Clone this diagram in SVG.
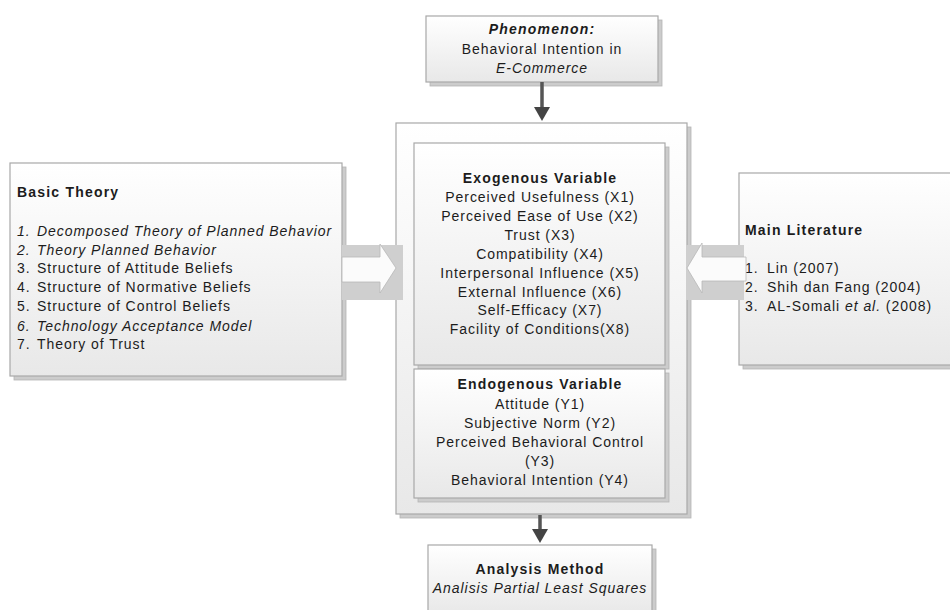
<svg xmlns="http://www.w3.org/2000/svg" width="950" height="610" viewBox="0 0 950 610">
<style>
text{font-family:"Liberation Sans",Arial,sans-serif;font-size:14px;fill:#1c1c1c;letter-spacing:0.95px}
.b{font-weight:bold;letter-spacing:1.2px}
.i{font-style:italic}
.c{text-anchor:middle}
.box{fill:url(#g);stroke:#a8a8a8;stroke-width:1.2}
.sh{fill:#cccccc;stroke:#b4b4b4;stroke-width:0.8}
.blk{fill:#cfcfcf}
.wa{fill:#fbfbfb;stroke:#b8b8b8;stroke-width:0.8}
.ar{stroke:#555;stroke-width:3.5;fill:none}
.ah{fill:#444}
</style>
<defs>
<linearGradient id="g" x1="0" y1="0" x2="0" y2="1">
<stop offset="0" stop-color="#ffffff"/>
<stop offset="1" stop-color="#e8e8e8"/>
</linearGradient>
</defs>
<rect width="950" height="610" fill="#ffffff"/>

<g id="phenomenon">
<rect class="sh" x="430" y="20" width="232" height="66"/>
<rect class="box" x="426" y="16" width="232" height="66"/>
<text class="b i c" x="542" y="34">Phenomenon:</text>
<text class="c" x="542" y="54">Behavioral Intention in</text>
<text class="i c" x="542" y="73">E-Commerce</text>
</g>

<g id="center">
<rect class="sh" x="400" y="127" width="291" height="391"/>
<rect class="box" x="396" y="123" width="291" height="391"/>
</g>

<g id="exogenous">
<rect class="sh" x="418" y="147" width="251" height="222"/>
<rect class="box" x="414" y="143" width="251" height="222"/>
<text class="b c" x="540" y="183">Exogenous Variable</text>
<text class="c" x="540" y="202">Perceived Usefulness (X1)</text>
<text class="c" x="540" y="221">Perceived Ease of Use (X2)</text>
<text class="c" x="540" y="240">Trust (X3)</text>
<text class="c" x="540" y="259">Compatibility (X4)</text>
<text class="c" x="540" y="278">Interpersonal Influence (X5)</text>
<text class="c" x="540" y="297">External Influence (X6)</text>
<text class="c" x="540" y="315">Self-Efficacy (X7)</text>
<text class="c" x="540" y="334">Facility of Conditions(X8)</text>
</g>

<g id="endogenous">
<rect class="sh" x="418" y="373" width="251" height="129"/>
<rect class="box" x="414" y="369" width="251" height="129"/>
<text class="b c" x="540" y="389">Endogenous Variable</text>
<text class="c" x="540" y="409">Attitude (Y1)</text>
<text class="c" x="540" y="428">Subjective Norm (Y2)</text>
<text class="c" x="540" y="447">Perceived Behavioral Control</text>
<text class="c" x="540" y="466">(Y3)</text>
<text class="c" x="540" y="485">Behavioral Intention (Y4)</text>
</g>

<g id="basic-theory">
<rect class="sh" x="14" y="167" width="332" height="213"/>
<rect class="box" x="10" y="163" width="332" height="213"/>
<text class="b" x="17" y="197">Basic Theory</text>
<text class="i" x="17" y="236">1.</text><text class="i" x="37" y="236">Decomposed Theory of Planned Behavior</text>
<text class="i" x="17" y="255">2.</text><text class="i" x="37" y="255">Theory Planned Behavior</text>
<text x="17" y="273">3.</text><text x="37" y="273">Structure of Attitude Beliefs</text>
<text x="17" y="292">4.</text><text x="37" y="292">Structure of Normative Beliefs</text>
<text x="17" y="311">5.</text><text x="37" y="311">Structure of Control Beliefs</text>
<text class="i" x="17" y="331">6.</text><text class="i" x="37" y="331">Technology Acceptance Model</text>
<text x="17" y="349">7.</text><text x="37" y="349">Theory of Trust</text>
</g>

<g id="main-literature">
<rect class="sh" x="743" y="177" width="220" height="192"/>
<rect class="box" x="739" y="173" width="220" height="192"/>
<text class="b" x="745" y="235">Main Literature</text>
<text x="745" y="273">1.</text><text x="767" y="273">Lin (2007)</text>
<text x="745" y="292">2.</text><text x="767" y="292">Shih dan Fang (2004)</text>
<text x="745" y="311">3.</text><text x="767" y="311">AL-Somali <tspan class="i">et al.</tspan> (2008)</text>
</g>

<g id="analysis">
<rect class="sh" x="432" y="549" width="224" height="70"/>
<rect class="box" x="428" y="545" width="224" height="70"/>
<text class="b c" x="540" y="574">Analysis Method</text>
<text class="i c" x="540" y="593">Analisis Partial Least Squares</text>
</g>

<g id="connectors">
<rect class="blk" x="342" y="245" width="61" height="55"/>
<polygon class="wa" points="342,257 380,257 380,244 396,268 380,293 380,282 342,282"/>
<rect class="blk" x="686" y="245" width="58" height="55"/>
<polygon class="wa" points="746,257 702,257 702,243 687,268 702,293 702,281 746,281"/>
<line class="ar" x1="542" y1="82" x2="542" y2="110"/>
<polygon class="ah" points="534,107 550,107 542,121"/>
<line class="ar" x1="540" y1="515" x2="540" y2="532"/>
<polygon class="ah" points="532,529 548,529 540,543"/>
</g>
</svg>
